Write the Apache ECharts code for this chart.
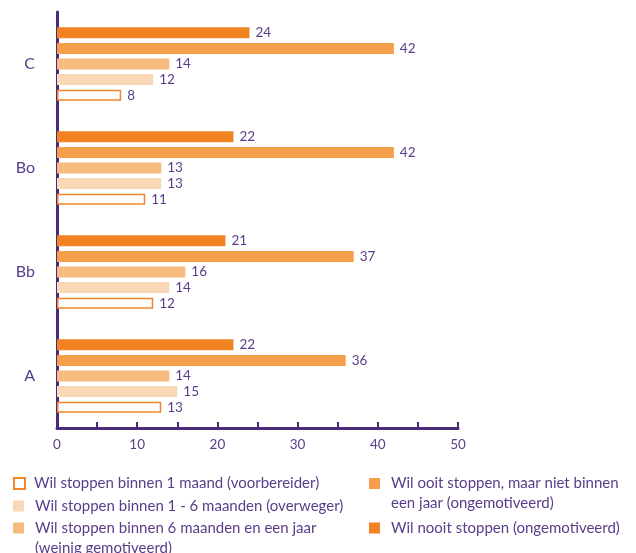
<!DOCTYPE html>
<html><head><meta charset="utf-8">
<script src="https://cdn.jsdelivr.net/npm/echarts@6/dist/echarts.min.js"></script>
<style>html,body{margin:0;padding:0;background:#fff}#c{width:636px;height:553px}</style>
</head><body><div id="c"></div>
<script>
const categories = ['A', 'Bb', 'Bo', 'C'];
const seriesNames = [
  'Wil stoppen binnen 1 maand (voorbereider)',
  'Wil stoppen binnen 1 - 6 maanden (overweger)',
  'Wil stoppen binnen 6 maanden en een jaar',
  'Wil ooit stoppen, maar niet binnen',
  'Wil nooit stoppen (ongemotiveerd)'
];
const binnen1Maand = [13, 12, 11, 8];
const binnen1tot6 = [15, 14, 13, 12];
const binnen6totJaar = [14, 16, 13, 14];
const ooitStoppen = [36, 37, 42, 42];
const nooitStoppen = [22, 21, 22, 24];
const xTicks = [0, 10, 20, 30, 40, 50];
const legendSecondLines = ['(weinig gemotiveerd)', 'een jaar (ongemotiveerd)'];

const purple = '#4A2B7A';
const txt = '#5A3D8A';
const font = 'Lato';
const colors = ['#FFFFFF', '#FAD8B7', '#F6BB7F', '#F59E4C', '#F28322'];
const values = [binnen1Maand, binnen1tot6, binnen6totJaar, ooitStoppen, nooitStoppen];

const series = values.map((v, i) => ({
  name: seriesNames[i],
  type: 'bar',
  data: v,
  barWidth: 11,
  barGap: '42%',
  itemStyle: i === 0 ? { color: '#FFFFFF', borderColor: '#F0872A', borderWidth: 1.5 } : { color: colors[i] },
  label: { show: true, position: 'right', distance: 6, color: txt, fontFamily: font, fontSize: 13.5 },
  emphasis: { disabled: true },
  animation: false
})).reverse();

const legendPos = [
  { left: 13, top: 476 },
  { left: 13, top: 498.5 },
  { left: 13, top: 520.5 },
  { left: 369, top: 476 },
  { left: 369, top: 520.5 }
];
const legends = seriesNames.map((n, i) => ({
  data: [n],
  left: legendPos[i].left,
  top: legendPos[i].top,
  padding: 0,
  itemWidth: 11,
  itemHeight: 11,
  icon: 'rect',
  selectedMode: false,
  textStyle: { color: txt, fontFamily: font, fontSize: 15, padding: [0, 0, 0, i === 0 ? 4 : 6] }
}));

const chart = echarts.init(document.getElementById('c'));
chart.setOption({
  animation: false,
  grid: { left: 57, right: 178, top: 12, bottom: 125 },
  xAxis: {
    type: 'value', min: 0, max: 50, interval: 10,
    axisLine: { show: true, lineStyle: { color: purple, width: 3 } },
    axisTick: { show: true, inside: true, length: 6, lineStyle: { color: purple, width: 2 } },
    minorTick: { show: true, splitNumber: 2, length: 6, lineStyle: { color: purple, width: 2 } },
    splitLine: { show: false },
    axisLabel: { color: txt, fontFamily: font, fontSize: 13.5, margin: 10,
      formatter: v => xTicks.includes(v) ? String(v) : '' }
  },
  yAxis: {
    type: 'category', data: categories,
    axisLine: { show: true, lineStyle: { color: purple, width: 3 } },
    axisTick: { show: false },
    axisLabel: { color: txt, fontFamily: font, fontSize: 16, margin: 22 }
  },
  legend: legends,
  graphic: [
    { type: 'text', left: 35, top: 541, style: { text: legendSecondLines[0], fill: txt, font: '15px Lato' } },
    { type: 'text', left: 391, top: 496, style: { text: legendSecondLines[1], fill: txt, font: '15px Lato' } }
  ],
  series: series
});
</script></body></html>
